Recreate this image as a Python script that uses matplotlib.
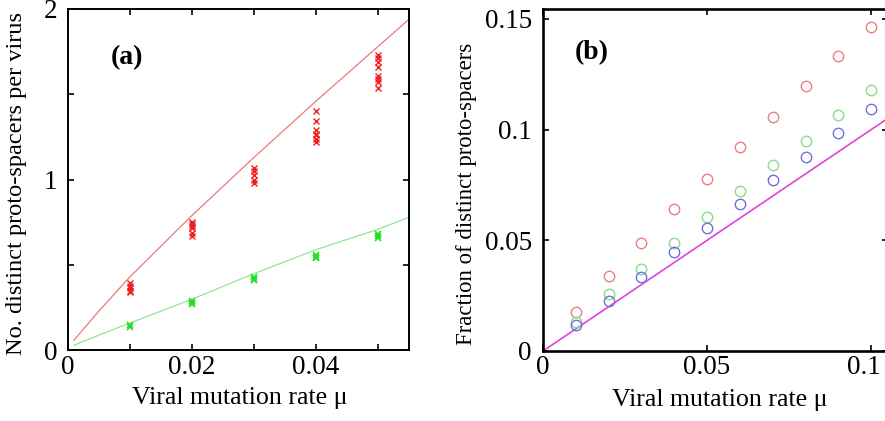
import matplotlib.pyplot as plt
import matplotlib.transforms as mtransforms
from matplotlib.ticker import FixedLocator

plt.rcParams['font.family'] = ['Liberation Serif', 'DejaVu Serif']
plt.rcParams['mathtext.fontset'] = 'stix'

# (a) distinct proto-spacers per virus, several runs per mutation rate
mu_a = [0.01, 0.02, 0.03, 0.04, 0.05]
red_runs = [
    [0.395, 0.38, 0.365, 0.35, 0.34],
    [0.75, 0.74, 0.73, 0.72, 0.69, 0.67],
    [1.07, 1.05, 1.03, 1.00, 0.98],
    [1.40, 1.345, 1.29, 1.27, 1.26, 1.24, 1.22],
    [1.73, 1.71, 1.69, 1.66, 1.61, 1.59, 1.57, 1.54],
]
green_runs = [
    [0.14, 0.15],
    [0.27, 0.28, 0.29],
    [0.41, 0.42, 0.43],
    [0.54, 0.55, 0.56],
    [0.66, 0.67, 0.68],
]
# theory curves
mu_curve = [0.001, 0.005, 0.01, 0.02, 0.03, 0.04, 0.05, 0.055]
red_curve = [0.06, 0.23, 0.43, 0.79, 1.13, 1.46, 1.78, 1.94]
green_curve = [0.03, 0.09, 0.16, 0.30, 0.45, 0.59, 0.71, 0.78]

# (b) fraction of distinct proto-spacers
mu_b = [0.01, 0.02, 0.03, 0.04, 0.05, 0.06, 0.07, 0.08, 0.09, 0.10]
frac_red = [0.0178, 0.0339, 0.0489, 0.0640, 0.0777, 0.0920, 0.1058, 0.1197, 0.1332, 0.1465]
frac_green = [0.0132, 0.0256, 0.0369, 0.0489, 0.0607, 0.0723, 0.0839, 0.0950, 0.1066, 0.1179]
frac_blue = [0.0117, 0.0226, 0.0336, 0.0446, 0.0554, 0.0663, 0.0772, 0.0878, 0.0986, 0.1094]
diag_x = [0.0, 0.11]
diag_y = [0.0, 0.11]

fig = plt.figure(figsize=(8.85, 4.21), dpi=100)
ax1 = fig.add_axes([0.0765, 0.1675, 0.3857, 0.8112])
ax2 = fig.add_axes([0.6136, 0.1663, 0.3893, 0.8124])

# ---- panel (a)
ax1.plot(mu_curve, red_curve, color='#ea7a7a', lw=0.9)
ax1.plot(mu_curve, green_curve, color='#8fe88f', lw=0.9)
for m, ys in zip(mu_a, red_runs):
    ax1.plot([m] * len(ys), ys, 'x', color='#f01e1e', ms=4, mew=1.0)
for m, ys in zip(mu_a, green_runs):
    ax1.plot([m] * len(ys), ys, 'x', color='#22dd22', ms=4, mew=1.1)

ax1.set_xlim(0, 0.055)
ax1.set_ylim(0, 2)
ax1.xaxis.set_major_locator(FixedLocator([0, 0.01, 0.02, 0.03, 0.04, 0.05]))
ax1.set_xticklabels(['0', '', '0.02', '', '0.04', ''])
ax1.yaxis.set_major_locator(FixedLocator([0, 0.5, 1, 1.5, 2]))
ax1.set_yticklabels(['0', '', '1', '', '2'])
ax1.set_xlabel('Viral mutation rate μ', fontsize=18.6, va='center')
ax1.set_ylabel('No. distinct proto-spacers per virus', fontsize=17.6, va='center')
ax1.xaxis.set_label_coords(0.505, -0.139)
ax1.yaxis.set_label_coords(-0.149, 0.49)
ax1.text(0.174, 0.859, '(a)', transform=ax1.transAxes, fontsize=20,
         fontweight='bold', ha='center', va='center')
ax1.tick_params(axis='x', labelsize=19.5, pad=3)
ax1.tick_params(axis='y', labelsize=19.5, pad=7.5)

# ---- panel (b)
ax2.plot(diag_x, diag_y, color='#dd44dd', lw=1.2)
ax2.plot(mu_b, frac_red, 'o', mfc='none', mec='#e88080', ms=7.5, mew=1.0)
ax2.plot(mu_b, frac_green, 'o', mfc='none', mec='#88dd88', ms=7.5, mew=1.0)
ax2.plot(mu_b, frac_blue, 'o', mfc='none', mec='#7070dd', ms=7.5, mew=1.0)

ax2.set_xlim(0, 0.105)
ax2.set_ylim(0, 0.1545)
ax2.xaxis.set_major_locator(FixedLocator([0, 0.05, 0.1]))
ax2.set_xticklabels(['0', '0.05', '0.1'])
ax2.yaxis.set_major_locator(FixedLocator([0, 0.05, 0.1, 0.15]))
ax2.set_yticklabels(['0', '0.05', '0.1', '0.15'])
ax2.set_xlabel('Viral mutation rate μ', fontsize=18.6, va='center')
ax2.set_ylabel('Fraction of distinct proto-spacers', fontsize=16.4, va='center')
ax2.xaxis.set_label_coords(0.512, -0.143)
ax2.yaxis.set_label_coords(-0.2235, 0.459)
ax2.text(0.142, 0.871, '(b)', transform=ax2.transAxes, fontsize=20,
         fontweight='bold', ha='center', va='center')
ax2.tick_params(axis='x', labelsize=19.5, pad=3)
ax2.tick_params(axis='y', labelsize=19.5, pad=8)

for ax, lw in ((ax1, 1.4), (ax2, 1.9)):
    ax.tick_params(direction='in', top=True, right=True, length=4, width=1.2)
    for s in ax.spines.values():
        s.set_linewidth(lw)

# last x label of (b) sits at the figure edge: right-align it so it stays whole
last = ax2.get_xticklabels()[-1]
last.set_ha('right')
last.set_transform(last.get_transform() +
                   mtransforms.ScaledTranslation(0.10, 0, fig.dpi_scale_trans))

fig.savefig('out.png', dpi=100)
